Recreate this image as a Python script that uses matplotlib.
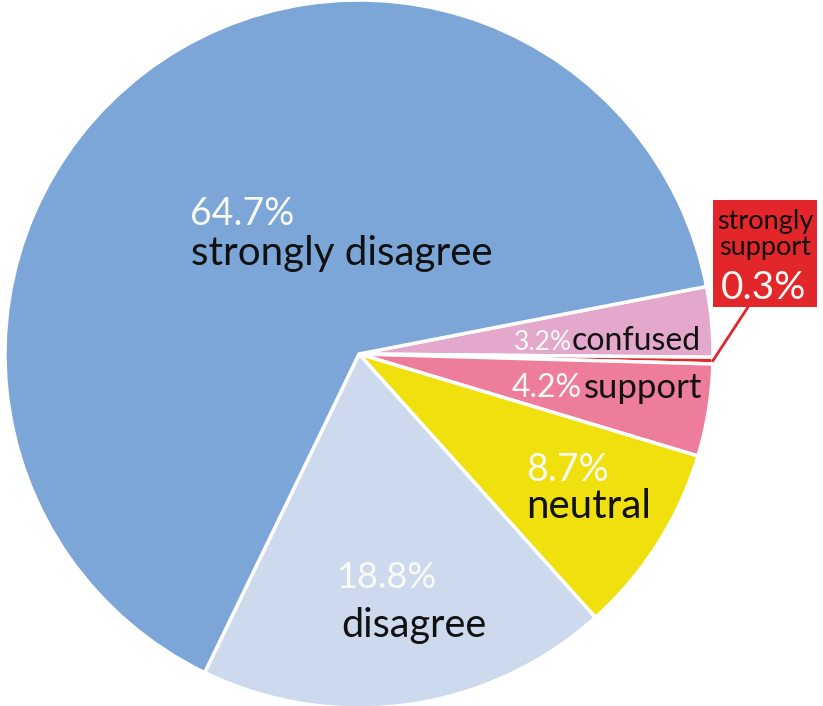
import numpy as np
import matplotlib.pyplot as plt
from matplotlib.patches import Rectangle

# slices, clockwise from the top of "confused"
labels = ['confused', 'strongly support', 'support', 'neutral', 'disagree', 'strongly disagree']
values = [3.2, 0.3, 4.2, 8.7, 18.8, 64.7]
colors = ['#E3A8CC', '#E2262A', '#EE7D9C', '#F0E00E', '#CDDAEE', '#7BA6D7']

W, H = 823, 706
fig = plt.figure(figsize=(W / 100, H / 100), dpi=100)
ax = fig.add_axes([0, 0, 1, 1])

cx, cy, r = 359, H - 354, 354
wedges, _ = ax.pie(values, colors=colors, startangle=11, counterclock=False,
                   center=(cx, cy), radius=r, frame=True,
                   wedgeprops=dict(edgecolor='white', linewidth=2.5))
ax.set_xlim(0, W)
ax.set_ylim(0, H)
ax.set_aspect('equal')
ax.axis('off')

font = 'Lato'
white = '#FAFAF5'
black = '#111111'


def px(x, y):
    return x, H - y


def lab(x, y, s, size, color, ha='left'):
    ax.text(*px(x, y), s, fontsize=size, color=color, ha=ha, va='center',
            family=font, zorder=5)


# strongly disagree
lab(190, 214, f'{values[5]}%', 27, white)
lab(191, 253, labels[5], 29, black)
# disagree
lab(336, 578, f'{values[4]}%', 26, white)
lab(341, 625, labels[4], 28.5, black)
# neutral
lab(526, 470, f'{values[3]}%', 27, white)
lab(526, 507, labels[3], 29, black)
# confused / support
lab(514, 343, f'{values[0]}%', 19, white)
lab(572, 341, labels[0], 23, black)
lab(512, 388, f'{values[2]}%', 23, white)
lab(584, 388, labels[2], 25, black)

# strongly support callout
ax.add_patch(Rectangle(px(713, 307), 104, 107, facecolor=colors[1],
                       edgecolor='none', zorder=3))
lab(765, 221, 'strongly', 19.5, black, ha='center')
lab(765, 247, 'support', 19.5, black, ha='center')
lab(764, 288, f'{values[1]}%', 28, white, ha='center')
w = wedges[1]
mid = np.deg2rad((w.theta1 + w.theta2) / 2)
ax.plot([cx + r * np.cos(mid), 748], [cy + r * np.sin(mid), H - 307],
        color=colors[1], linewidth=2, zorder=2)

fig.savefig('out.png', dpi=100)
